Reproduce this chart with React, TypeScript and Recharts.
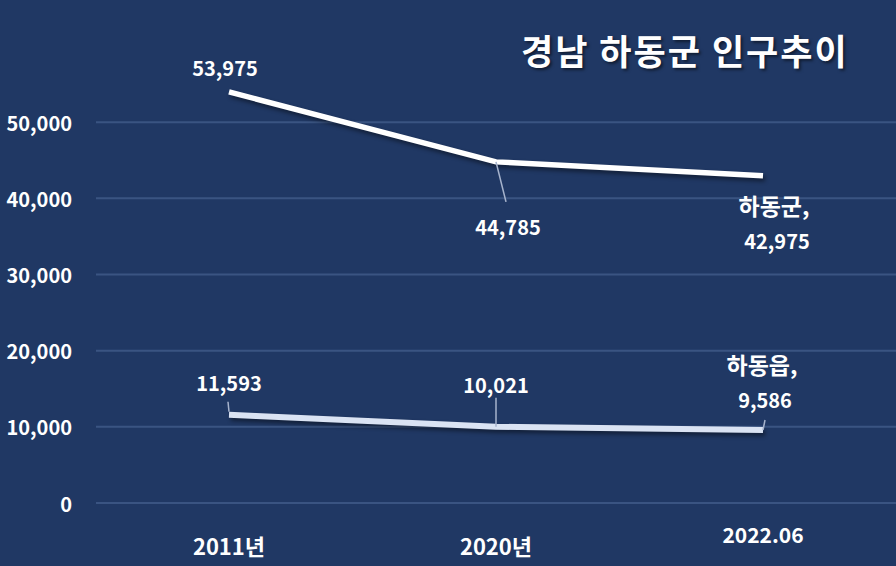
import React from "react";
import { LineChart, Line, XAxis, YAxis, CartesianGrid, LabelList } from "recharts";

const categories = ["2011년", "2020년", "2022.06"];
const gunValues = [53975, 44785, 42975];
const eupValues = [11593, 10021, 9586];
const yTicks = [0, 10000, 20000, 30000, 40000, 50000];
const gunName = "하동군";
const eupName = "하동읍";
const title = "경남 하동군 인구추이";

const data = categories.map((c, i) => ({ name: c, gun: gunValues[i], eup: eupValues[i] }));

const FONT = "'Noto Sans CJK KR', 'Noto Sans', sans-serif";
const BG = "#203864";
const fmt = (v: number) => v.toLocaleString("en-US");

// label placement (offsets from the point): dx, dy of text center, leader line (from/to dy)
const gunLabelPos = [
  { dx: -4, dy: -24, leader: null as null | number[] },
  { dx: 12, dy: 65, leader: [0, 0, 10, 40] },
  { dx: 14, dy: 65, leader: null },
];
const eupLabelPos = [
  { dx: 0, dy: -32, leader: [0, -3, -1, -13] },
  { dx: 0, dy: -42, leader: [0, 0, 0, -29] },
  { dx: 2, dy: -30, leader: [0, 0, 2, -10] },
];

const makeLabel = (values: number[], pos: typeof gunLabelPos, name: string) => (props: any) => {
  const { x, y, index } = props;
  const p = pos[index];
  const last = index === values.length - 1;
  const tx = x + p.dx;
  const ty = y + p.dy;
  return (
    <g>
      {p.leader && (
        <line
          x1={x + p.leader[0]}
          y1={y + p.leader[1]}
          x2={x + p.leader[2]}
          y2={y + p.leader[3]}
          stroke="#A6B3CC"
          strokeWidth={1.5}
        />
      )}
      {last && (
        <text x={tx - 3} y={ty - 36} textAnchor="middle" dominantBaseline="central" fill="#fff" fontFamily={FONT} fontWeight={700} fontSize={23}>
          {name + ","}
        </text>
      )}
      <text x={tx} y={ty} textAnchor="middle" dominantBaseline="central" fill="#fff" fontFamily={FONT} fontWeight={700} fontSize={20}>
        {fmt(values[index])}
      </text>
    </g>
  );
};

const YTick = (props: any) => {
  const { y, payload } = props;
  return (
    <text x={72} y={y} textAnchor="end" dominantBaseline="central" fill="#fff" fontFamily={FONT} fontWeight={700} fontSize={20}>
      {fmt(payload.value)}
    </text>
  );
};

const XTick = (props: any) => {
  const { x, y, payload } = props;
  const isYear = String(payload.value).endsWith("년");
  return (
    <text x={x} y={y + (isYear ? 34 : 23)} textAnchor="middle" dominantBaseline="central" fill="#fff" fontFamily={FONT} fontWeight={700} fontSize={isYear ? 22 : 21}>
      {payload.value}
    </text>
  );
};

export default function App() {
  return (
    <div style={{ position: "fixed", left: 0, top: 0, width: 896, height: 566, background: BG, overflow: "hidden" }}>
      <style>{`.recharts-line-curve { filter: drop-shadow(2px 3px 2px rgba(0,0,0,0.45)); }`}</style>
      <div
        style={{
          position: "absolute",
          left: 521,
          top: 26,
          color: "#fff",
          fontFamily: FONT,
          fontWeight: 700,
          fontSize: 35,
          letterSpacing: 2,
          lineHeight: "48px",
          whiteSpace: "nowrap",
          textShadow: "2px 2px 3px rgba(0,0,0,0.5)",
        }}
      >
        {title}
      </div>
      <LineChart width={896} height={566} data={data} margin={{ top: 46, right: 0, bottom: 0, left: 0 }}>
        <CartesianGrid vertical={false} horizontalValues={yTicks} stroke="#3A5482" strokeWidth={2} />
        <XAxis
          dataKey="name"
          axisLine={false}
          tickLine={false}
          height={63}
          padding={{ left: 133, right: 133 }}
          tick={<XTick />}
          interval={0}
        />
        <YAxis
          domain={[0, 60000]}
          ticks={yTicks}
          axisLine={false}
          tickLine={false}
          width={96}
          tick={<YTick />}
        />
        <Line
          dataKey="gun"
          name={gunName}
          stroke="#FFFFFF"
          strokeWidth={5.5}
          dot={false}
          type="linear"
          isAnimationActive={false}
        >
          <LabelList dataKey="gun" content={makeLabel(gunValues, gunLabelPos, gunName)} />
        </Line>
        <Line
          dataKey="eup"
          name={eupName}
          stroke="#DAE3F3"
          strokeWidth={6}
          dot={false}
          type="linear"
          isAnimationActive={false}
        >
          <LabelList dataKey="eup" content={makeLabel(eupValues, eupLabelPos, eupName)} />
        </Line>
      </LineChart>
    </div>
  );
}
